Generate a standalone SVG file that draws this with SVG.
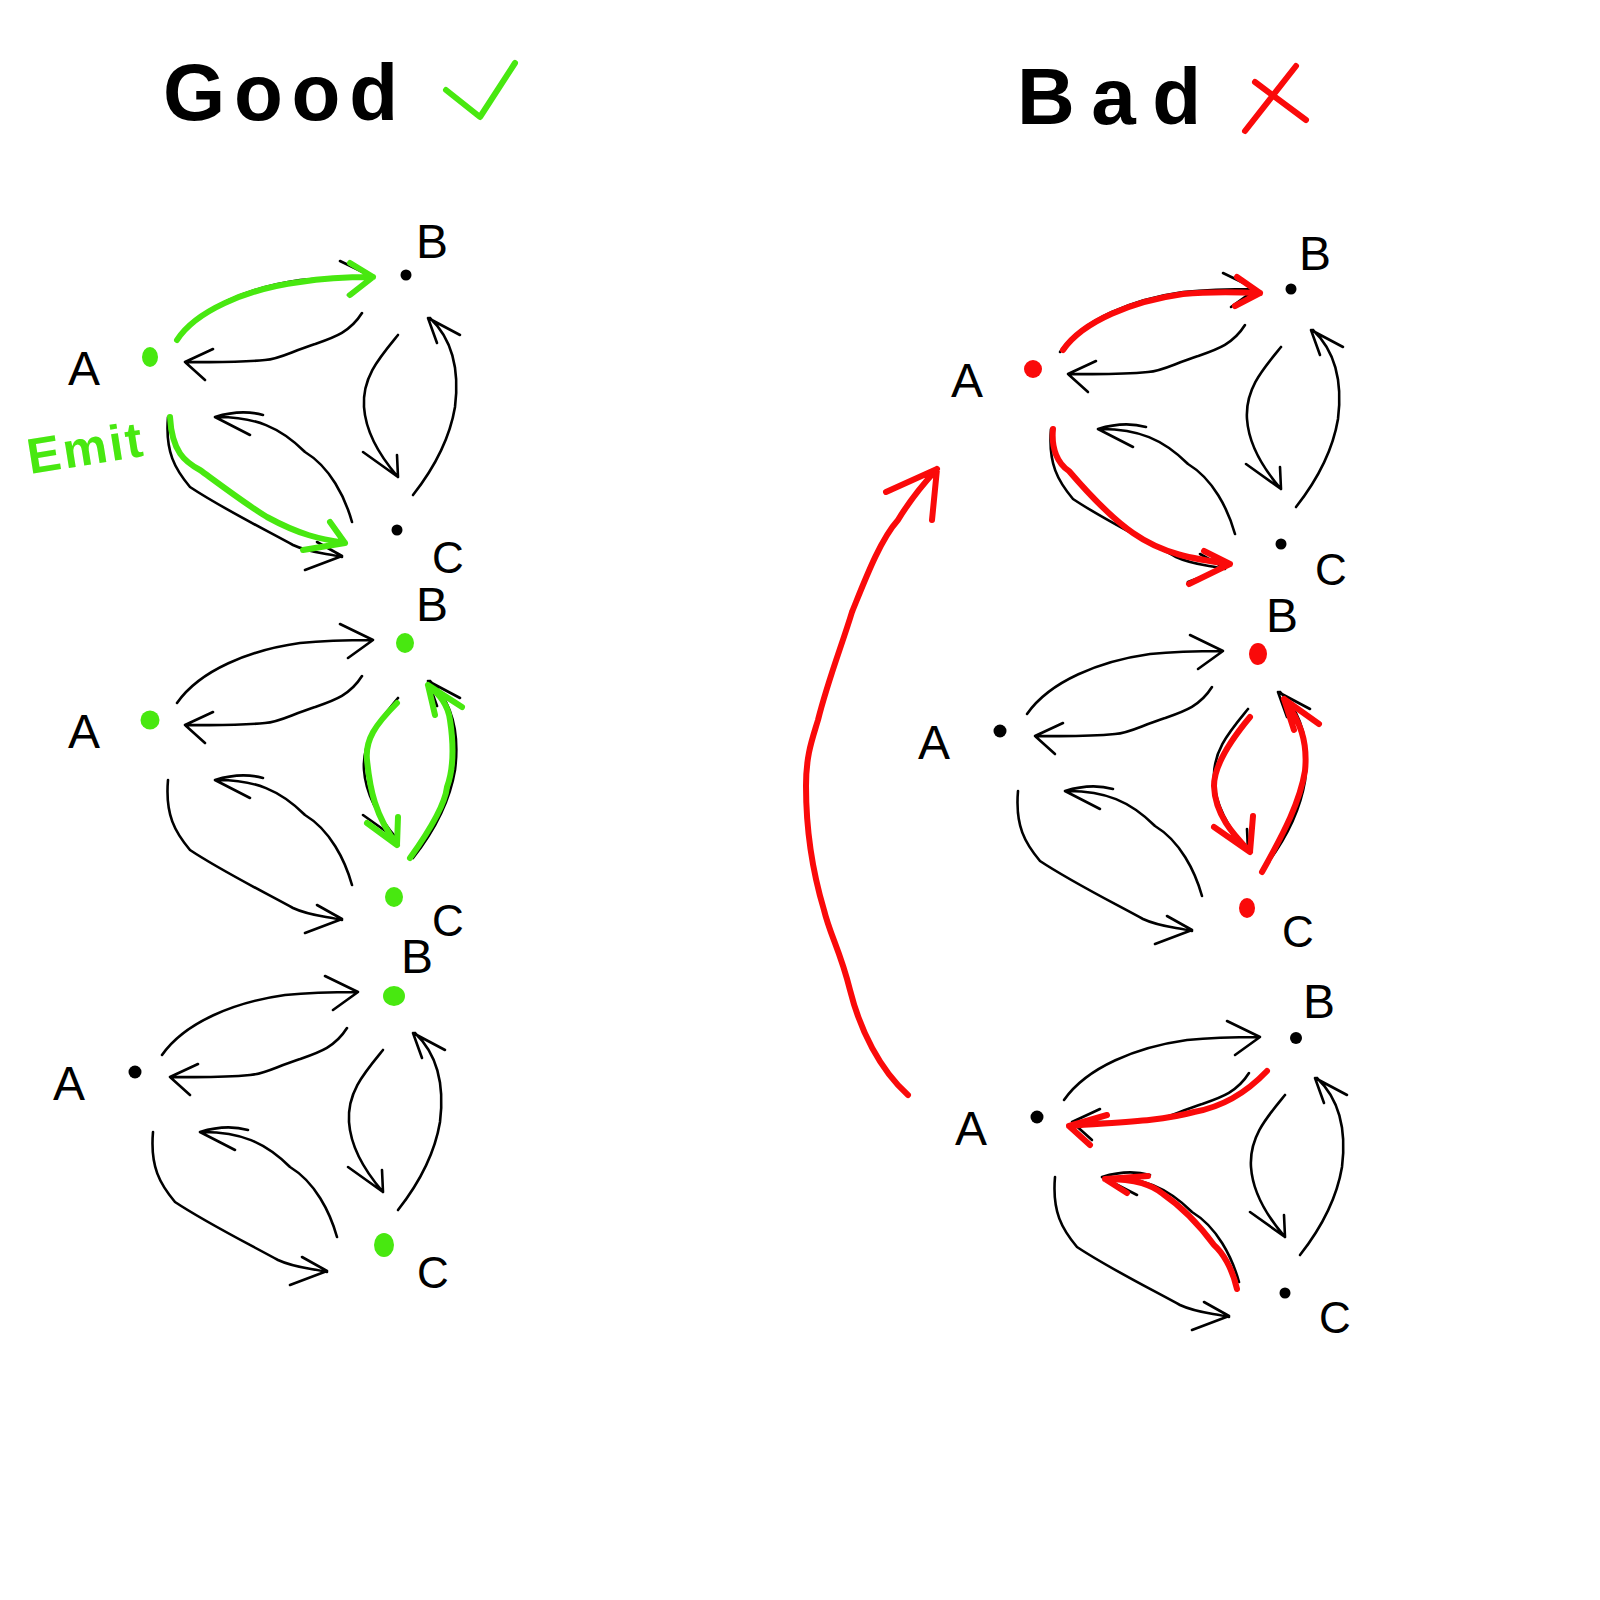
<svg xmlns="http://www.w3.org/2000/svg" xmlns:xlink="http://www.w3.org/1999/xlink" width="1600" height="1600" viewBox="0 0 1600 1600">
<style>
.bg{fill:#ffffff}
.edge{fill:none;stroke:#000;stroke-width:2.6;stroke-linecap:round;stroke-linejoin:round}
.g{fill:none;stroke:#48e810;stroke-width:6;stroke-linecap:round;stroke-linejoin:round}
.r{fill:none;stroke:#fa0a0a;stroke-width:6;stroke-linecap:round;stroke-linejoin:round}
.lbl{font-family:"Liberation Sans",Arial,sans-serif;font-size:48px;fill:#000;text-anchor:middle}
.lblc{font-family:"Liberation Sans",Arial,sans-serif;font-size:44px;fill:#000;text-anchor:middle}
.title{font-family:"Liberation Sans",Arial,sans-serif;font-weight:bold;font-size:80px;fill:#000}
.emit{font-family:"Liberation Sans",Arial,sans-serif;font-weight:bold;font-size:50px;fill:#48e810}
.dk{fill:#000}.dg{fill:#48e810}.dr{fill:#fa0a0a}
</style>
<defs>
<g id="tri-edges">
<path class="edge" d="M27,-17 C50,-50 100,-70 150,-77 C180,-80 205,-80 223,-80 M190,-96 L223,-80 L198,-62"/>
<path class="edge" d="M212,-44 C200,-25 185,-20 165,-13 C140,-5 130,2 115,3 C85,6 60,5 35,5 M63,-8 L35,5 L55,23"/>
<path class="edge" d="M18,60 C15,95 25,112 40,130 C70,150 110,170 143,188 C160,196 175,196 192,200 M167,185 L192,199 L155,213"/>
<path class="edge" d="M202,165 C195,140 180,110 155,95 C130,70 105,60 68,60 M113,58 C95,53 78,56 65,60 L100,78"/>
<path class="edge" d="M248,-22 C230,0 212,20 214,50 C216,80 235,105 248,120 M213,95 L248,120 L247,98"/>
<path class="edge" d="M263,138 C285,110 300,80 305,50 C310,10 300,-20 280,-39 M287,-14 L278,-39 L310,-22"/>
</g>
</defs>
<rect class="bg" x="0" y="0" width="1600" height="1600"/>

<g id="titles">
<text class="title" x="163" y="120" textLength="235" lengthAdjust="spacing">Good</text>
<path class="g" d="M446,90 L480,117 L515,63" stroke-width="7"/>
<text class="title" x="1017" y="124" textLength="184" lengthAdjust="spacing">Bad</text>
<path class="r" d="M1245,131 L1296,66 M1255,82 L1306,120" stroke-width="7"/>
</g>

<g id="connectors">
<use xlink:href="#tri-edges" transform="translate(150,357)"/>
<use xlink:href="#tri-edges" transform="translate(150,720)"/>
<use xlink:href="#tri-edges" transform="translate(135,1072)"/>
<use xlink:href="#tri-edges" transform="translate(1033,369)"/>
<use xlink:href="#tri-edges" transform="translate(1000,731)"/>
<use xlink:href="#tri-edges" transform="translate(1037,1117)"/>
<g transform="translate(150,357)">
<path class="g" d="M27,-17 C45,-45 95,-68 150,-75 C180,-80 205,-80 223,-80 M200,-94 L223,-80 L200,-62"/>
<path class="g" d="M20,60 C22,95 35,105 50,113 C80,135 100,150 117,160 C150,178 170,182 195,186 M180,165 L195,186 L153,193"/>
</g>
<g transform="translate(150,720)">
<path class="g" d="M247,-17 C225,5 215,20 217,40 C220,70 225,95 247,125 M217,103 L247,125 L248,97"/>
<path class="g" d="M260,138 C280,110 295,85 297,67 C305,45 303,20 300,0 C298,-15 290,-25 278,-35 M285,-5 L278,-35 L312,-13"/>
</g>
<g transform="translate(1033,369)">
<path class="r" d="M30,-19 C50,-48 100,-68 150,-75 C180,-78 205,-77 227,-76 M204,-92 L227,-76 L202,-63"/>
<path class="r" d="M20,60 C18,80 25,95 36,102 C60,130 80,150 100,164 C130,185 160,190 197,195 M171,182 L197,195 L156,215"/>
</g>
<g transform="translate(1000,731)">
<path class="r" d="M250,-14 C230,10 214,35 214,55 C215,85 235,105 250,121 M214,96 L250,121 L253,85"/>
<path class="r" d="M262,141 C285,100 300,70 305,40 C308,10 300,-10 284,-32 M294,-1 L284,-32 L319,-7"/>
</g>
<g transform="translate(1037,1117)">
<path class="r" d="M230,-46 C210,-25 185,-10 157,-5 C120,5 80,5 32,9 M70,-2 L32,9 L53,28"/>
<path class="r" d="M200,172 C195,150 185,135 177,128 C160,105 145,90 126,77 C115,68 100,62 68,62 M111,59 L68,62 L90,76"/>
</g>
<path class="r" d="M908,1095 C880,1070 860,1030 850,990 C840,950 830,935 824,910 C812,870 806,830 806,786 C806,755 812,740 818,720 C828,680 842,645 852,612 C865,580 880,540 898,520 C910,500 925,482 937,469 M886,492 L937,469 L932,520" stroke-width="5"/>
</g>

<text class="emit" x="30" y="474" textLength="116" lengthAdjust="spacing" transform="rotate(-9 30 474)">Emit</text>

<g id="good-1" transform="translate(150,357)">
<g id="good1-A"><ellipse class="dg" cx="0" cy="0" rx="8" ry="10"/><text class="lbl" x="-66" y="28">A</text></g>
<g id="good1-B"><circle class="dk" cx="256" cy="-82" r="5.5"/><text class="lbl" x="282" y="-99">B</text></g>
<g id="good1-C"><circle class="dk" cx="247" cy="173" r="5.5"/><text class="lblc" x="298" y="216">C</text></g>
</g>
<g id="good-2" transform="translate(150,720)">
<g id="good2-A"><circle class="dg" cx="0" cy="0" r="9.5"/><text class="lbl" x="-66" y="28">A</text></g>
<g id="good2-B"><ellipse class="dg" cx="255" cy="-77" rx="9" ry="10"/><text class="lbl" x="282" y="-99">B</text></g>
<g id="good2-C"><ellipse class="dg" cx="244" cy="177" rx="9" ry="10"/><text class="lblc" x="298" y="216">C</text></g>
</g>
<g id="good-3" transform="translate(135,1072)">
<g id="good3-A"><circle class="dk" cx="0" cy="0" r="6.5"/><text class="lbl" x="-66" y="28">A</text></g>
<g id="good3-B"><ellipse class="dg" cx="259" cy="-76" rx="11" ry="10"/><text class="lbl" x="282" y="-99">B</text></g>
<g id="good3-C"><ellipse class="dg" cx="249" cy="173" rx="10" ry="12"/><text class="lblc" x="298" y="216">C</text></g>
</g>
<g id="bad-1" transform="translate(1033,369)">
<g id="bad1-A"><circle class="dr" cx="0" cy="0" r="9"/><text class="lbl" x="-66" y="28">A</text></g>
<g id="bad1-B"><circle class="dk" cx="258" cy="-80" r="5.5"/><text class="lbl" x="282" y="-99">B</text></g>
<g id="bad1-C"><circle class="dk" cx="248" cy="175" r="5.5"/><text class="lblc" x="298" y="216">C</text></g>
</g>
<g id="bad-2" transform="translate(1000,731)">
<g id="bad2-A"><circle class="dk" cx="0" cy="0" r="6.5"/><text class="lbl" x="-66" y="28">A</text></g>
<g id="bad2-B"><ellipse class="dr" cx="258" cy="-77" rx="9" ry="11"/><text class="lbl" x="282" y="-99">B</text></g>
<g id="bad2-C"><ellipse class="dr" cx="247" cy="177" rx="8" ry="10"/><text class="lblc" x="298" y="216">C</text></g>
</g>
<g id="bad-3" transform="translate(1037,1117)">
<g id="bad3-A"><circle class="dk" cx="0" cy="0" r="6.5"/><text class="lbl" x="-66" y="28">A</text></g>
<g id="bad3-B"><circle class="dk" cx="259" cy="-79" r="6"/><text class="lbl" x="282" y="-99">B</text></g>
<g id="bad3-C"><circle class="dk" cx="248" cy="176" r="5.5"/><text class="lblc" x="298" y="216">C</text></g>
</g>
</svg>
